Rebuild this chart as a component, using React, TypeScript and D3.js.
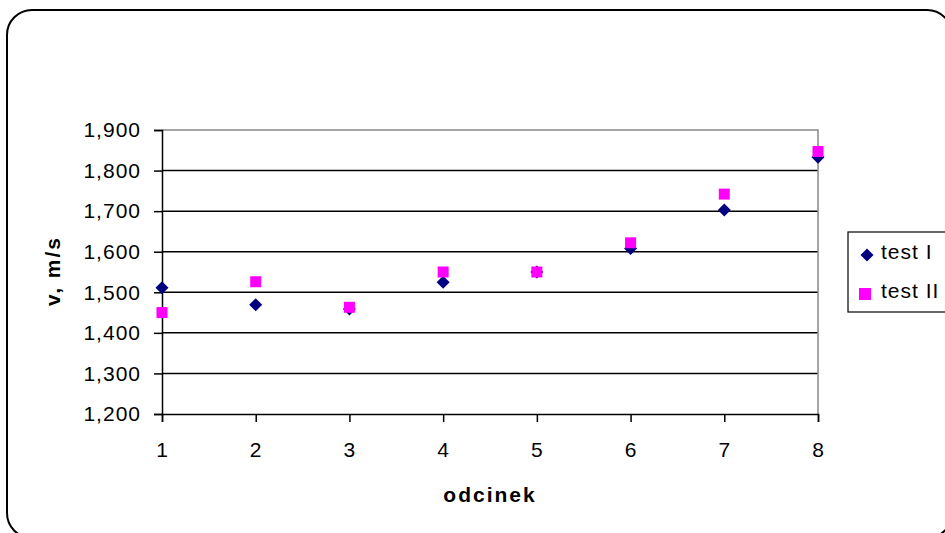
import React, { useEffect, useRef } from "react";
import * as d3 from "d3";

const segments = [1, 2, 3, 4, 5, 6, 7, 8];
const test1 = [1511, 1469, 1459, 1525, 1550, 1608, 1703, 1833];
const test2 = [1450, 1526, 1463, 1550, 1550, 1622, 1742, 1847];
const yTicks = [1200, 1300, 1400, 1500, 1600, 1700, 1800, 1900];
const seriesNames = ["test I", "test II"];

const diamondPath = (r: number) => `M0,${-r}L${r},0L0,${r}L${-r},0Z`;

const App = () => {
  const svgRef = useRef<SVGSVGElement>(null);

  useEffect(() => {
    const width = 945, height = 533;
    const left = 162, right = 818, top = 130, bottom = 414;
    const font = "Arial, 'Liberation Sans', sans-serif";

    const svg = d3.select(svgRef.current)
      .attr("width", width)
      .attr("height", height)
      .style("display", "block")
      .style("background", "#fff");
    svg.selectAll("*").remove();

    // outer frame
    svg.append("rect")
      .attr("x", 7).attr("y", 10)
      .attr("width", 945).attr("height", 528)
      .attr("rx", 25)
      .attr("fill", "none")
      .attr("stroke", "#000")
      .attr("stroke-width", 2);

    const x = d3.scaleLinear().domain([1, 8]).range([left, right]);
    const y = d3.scaleLinear().domain([1200, 1900]).range([bottom, top]);

    // gridlines
    svg.append("g")
      .selectAll("line")
      .data(yTicks.slice(1, -1))
      .enter().append("line")
      .attr("x1", left).attr("x2", right)
      .attr("y1", d => y(d)).attr("y2", d => y(d))
      .attr("stroke", "#000")
      .attr("stroke-width", 1.5);

    // plot border top/right
    svg.append("path")
      .attr("d", `M${left},${top}H${right}V${bottom}`)
      .attr("fill", "none")
      .attr("stroke", "#888")
      .attr("stroke-width", 1.5);

    const fmt = d3.format(",");

    const yAxis = svg.append("g")
      .attr("transform", `translate(${left},0)`)
      .call(d3.axisLeft(y).tickValues(yTicks).tickSize(8).tickPadding(13).tickFormat(d => fmt(d as number)));
    const xAxis = svg.append("g")
      .attr("transform", `translate(0,${bottom})`)
      .call(d3.axisBottom(x).tickValues(segments).tickSize(8).tickPadding(20).tickFormat(d3.format("d")));

    [yAxis, xAxis].forEach(g => {
      g.select(".domain").attr("stroke", "#000").attr("stroke-width", 1.5);
      g.selectAll(".tick line").attr("stroke", "#000").attr("stroke-width", 1.5);
      g.selectAll(".tick text")
        .attr("fill", "#000")
        .style("font-family", font)
        .style("font-size", "21px")
        .style("letter-spacing", "1px");
    });

    // points
    svg.append("g")
      .selectAll("path")
      .data(test1)
      .enter().append("path")
      .attr("d", diamondPath(6.5))
      .attr("transform", (d, i) => `translate(${x(segments[i])},${y(d)})`)
      .attr("fill", "#000080");

    svg.append("g")
      .selectAll("rect")
      .data(test2)
      .enter().append("rect")
      .attr("x", (d, i) => x(segments[i]) - 5.5)
      .attr("y", d => y(d) - 5.5)
      .attr("width", 11).attr("height", 11)
      .attr("fill", "#FF00FF");

    // axis titles
    svg.append("text")
      .attr("transform", "rotate(-90)")
      .attr("x", -271)
      .attr("y", 60)
      .attr("text-anchor", "middle")
      .style("font-family", font)
      .style("font-size", "21px")
      .style("font-weight", "bold")
      .style("letter-spacing", "2px")
      .text("v, m/s");

    svg.append("text")
      .attr("x", (left + right) / 2)
      .attr("y", 502)
      .attr("text-anchor", "middle")
      .style("font-family", font)
      .style("font-size", "21px")
      .style("font-weight", "bold")
      .style("letter-spacing", "2px")
      .text("odcinek");

    // legend
    const lg = svg.append("g");
    lg.append("rect")
      .attr("x", 848).attr("y", 232)
      .attr("width", 120).attr("height", 80)
      .attr("fill", "#fff")
      .attr("stroke", "#000")
      .attr("stroke-width", 1.2);
    lg.append("path")
      .attr("d", diamondPath(6.5))
      .attr("transform", "translate(867,255)")
      .attr("fill", "#000080");
    lg.append("rect")
      .attr("x", 859).attr("y", 288)
      .attr("width", 12).attr("height", 12)
      .attr("fill", "#FF00FF");
    lg.selectAll("text")
      .data(seriesNames)
      .enter().append("text")
      .attr("x", 881)
      .attr("y", (d, i) => 259 + i * 39)
      .style("font-family", font)
      .style("font-size", "21px")
      .style("letter-spacing", "1px")
      .text(d => d);
  }, []);

  return <svg ref={svgRef} style={{ position: "absolute", left: 0, top: 0 }}></svg>;
};

export default App;
